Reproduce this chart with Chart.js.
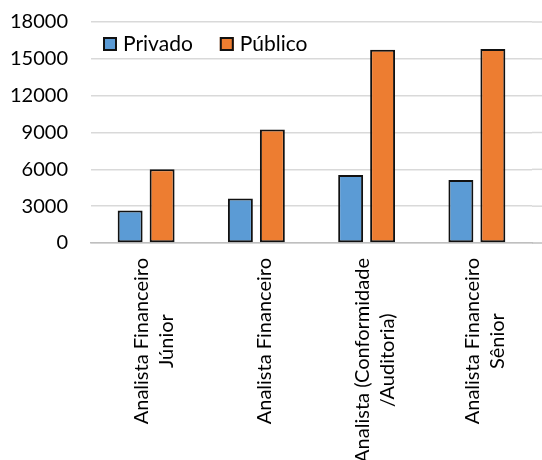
<!DOCTYPE html>
<html>
<head>
<meta charset="utf-8">
<script src="https://cdn.jsdelivr.net/npm/chart.js@4.4.1/dist/chart.umd.min.js"></script>
<style>
  html, body { margin: 0; padding: 0; background: #fff; }
  #wrap { width: 542px; height: 460px; }
</style>
</head>
<body>
<div id="wrap"><canvas id="chart" width="542" height="460"></canvas></div>
<script>
// salary by role, private vs public sector
const categories = [
    ['Analista Financeiro', 'Júnior'],
    ['Analista Financeiro'],
    ['Analista (Conformidade', '/Auditoria)'],
    ['Analista Financeiro', 'Sênior']
];
const privado = [2650, 3630, 5540, 5130];
const publico = [6000, 9250, 15730, 15810];
const yTicks = [0, 3000, 6000, 9000, 12000, 15000, 18000];

const FONT = 'Lato';
const TEXT = '#000000';

// legend drawn inside the plot, top left
const insideLegend = {
    id: 'insideLegend',
    afterDraw(chart) {
        const ctx = chart.ctx;
        const area = chart.chartArea;
        let x = area.left + 12;
        const y = area.top + 15;
        ctx.save();
        ctx.font = '21px ' + FONT;
        ctx.textBaseline = 'middle';
        ctx.textAlign = 'left';
        chart.data.datasets.forEach(function(ds) {
            ctx.fillStyle = ds.backgroundColor;
            ctx.fillRect(x, y, 14, 14);
            ctx.strokeStyle = ds.borderColor;
            ctx.lineWidth = 2;
            ctx.strokeRect(x + 1, y + 1, 12, 12);
            ctx.fillStyle = TEXT;
            ctx.fillText(ds.label, x + 20, y + 7);
            x += 20 + ctx.measureText(ds.label).width + 27;
        });
        ctx.restore();
    }
};

// rotated category labels, lines centred on each other
const rotatedLabels = {
    id: 'rotatedLabels',
    afterDraw(chart) {
        const ctx = chart.ctx;
        const xs = chart.scales.x;
        const top = chart.chartArea.bottom + 15;
        ctx.save();
        ctx.font = '20px ' + FONT;
        ctx.fillStyle = TEXT;
        ctx.textAlign = 'center';
        ctx.textBaseline = 'middle';
        categories.forEach(function(lines, i) {
            const cx = xs.getPixelForValue(i) + 8;
            let w = 0;
            lines.forEach(function(l) { w = Math.max(w, ctx.measureText(l).width); });
            ctx.save();
            ctx.translate(cx, top);
            ctx.rotate(-Math.PI / 2);
            lines.forEach(function(l, j) {
                ctx.fillText(l, -w / 2, (j - (lines.length - 1) / 2) * 25);
            });
            ctx.restore();
        });
        ctx.restore();
    }
};

// carry the horizontal gridlines on to the right edge
const gridTail = {
    id: 'gridTail',
    beforeDatasetsDraw(chart) {
        const ctx = chart.ctx;
        const ys = chart.scales.y;
        const area = chart.chartArea;
        ctx.save();
        yTicks.forEach(function(v) {
            const py = ys.getPixelForValue(v);
            ctx.strokeStyle = v === 0 ? '#bfbfbf' : '#d9d9d9';
            ctx.lineWidth = 1.5;
            ctx.beginPath();
            ctx.moveTo(area.right, py);
            ctx.lineTo(chart.width, py);
            ctx.stroke();
        });
        ctx.restore();
    }
};

const data = {
    labels: categories,
    datasets: [
        {
            label: 'Privado',
            data: privado,
            backgroundColor: '#5B9BD5',
            borderColor: '#111111',
            borderWidth: 2,
            borderSkipped: false,
            categoryPercentage: 0.58,
            barPercentage: 0.78
        },
        {
            label: 'Público',
            data: publico,
            backgroundColor: '#ED7D31',
            borderColor: '#111111',
            borderWidth: 2,
            borderSkipped: false,
            categoryPercentage: 0.58,
            barPercentage: 0.78
        }
    ]
};

const config = {
    type: 'bar',
    data: data,
    options: {
        responsive: false,
        animation: false,
        layout: { padding: { left: 11, right: 10, top: 22, bottom: 0 } },
        plugins: {
            legend: { display: false },
            tooltip: { enabled: false }
        },
        scales: {
            x: {
                ticks: { display: false },
                grid: { display: false, drawTicks: false },
                border: { display: true, color: '#bfbfbf', width: 1.5 },
                afterFit: function(scale) { scale.height = 217; }
            },
            y: {
                min: 0,
                max: 18000,
                afterBuildTicks: function(scale) {
                    scale.ticks = yTicks.map(function(v) { return { value: v }; });
                },
                ticks: {
                    padding: 23,
                    color: TEXT,
                    font: { family: FONT, size: 20 },
                    callback: function(v) { return String(v); }
                },
                grid: { color: '#d9d9d9', lineWidth: 1.5, drawTicks: false },
                border: { display: false },
                afterFit: function(scale) {
                    // tick padding is only meant to push labels left
                    scale.width = 80;
                    scale.paddingTop = 0;
                    scale.paddingBottom = 0;
                }
            }
        }
    },
    plugins: [gridTail, insideLegend, rotatedLabels]
};

const chart = new Chart(document.getElementById('chart'), config);
</script>
</body>
</html>
